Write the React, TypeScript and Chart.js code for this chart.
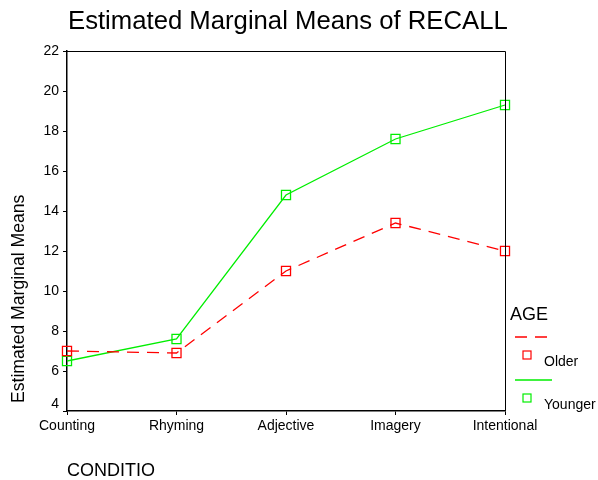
import React, { useEffect, useRef } from "react";
import { Chart, registerables } from "chart.js";

Chart.register(...registerables);

const chartTitle = "Estimated Marginal Means of RECALL";
const xAxisTitle = "CONDITIO";
const yAxisTitle = "Estimated Marginal Means";
const legendTitle = "AGE";
const categories = ["Counting", "Rhyming", "Adjective", "Imagery", "Intentional"];
const seriesNames = ["Older", "Younger"];
const olderMeans = [7.0, 6.9, 11.0, 13.4, 12.0];
const youngerMeans = [6.5, 7.6, 14.8, 17.6, 19.3];
const yTicks = [4, 6, 8, 10, 12, 14, 16, 18, 20, 22];

const FONT = "'Liberation Sans', Arial, Helvetica, sans-serif";

const decorPlugin = {
  id: "spssDecor",
  afterDraw(chart: any) {
    const { ctx, chartArea } = chart;
    const { left, right, top, bottom } = chartArea;
    const yScale = chart.scales.y;
    ctx.save();

    // frame (top + right)
    ctx.strokeStyle = "#000";
    ctx.lineWidth = 1;
    ctx.beginPath();
    ctx.moveTo(left, top + 0.5);
    ctx.lineTo(right + 0.5, top + 0.5);
    ctx.lineTo(right + 0.5, bottom);
    ctx.stroke();

    // title
    ctx.fillStyle = "#000";
    ctx.font = `25.7px ${FONT}`;
    ctx.textAlign = "left";
    ctx.textBaseline = "alphabetic";
    ctx.fillText(chartTitle, 68, 28.5);

    // y tick labels
    ctx.font = `14px ${FONT}`;
    ctx.textAlign = "right";
    ctx.textBaseline = "middle";
    yScale.ticks.forEach((t: any) => {
      const py = Math.min(yScale.getPixelForValue(t.value), bottom - 7);
      ctx.fillText(String(t.value), left - 8, py);
    });

    // y axis title
    ctx.save();
    ctx.font = `17.6px ${FONT}`;
    ctx.translate(19, 403);
    ctx.rotate(-Math.PI / 2);
    ctx.textAlign = "left";
    ctx.textBaseline = "middle";
    ctx.fillText(yAxisTitle, 0, 0);
    ctx.restore();

    // legend
    const lx = right + 10;
    ctx.font = `18px ${FONT}`;
    ctx.textAlign = "left";
    ctx.textBaseline = "middle";
    ctx.fillText(legendTitle, lx - 5, 315);
    chart.data.datasets.forEach((ds: any, i: number) => {
      const baseY = 337 + i * 43;
      ctx.strokeStyle = ds.borderColor;
      ctx.lineWidth = 1.3;
      ctx.setLineDash(ds.borderDash || []);
      ctx.beginPath();
      ctx.moveTo(lx, baseY);
      ctx.lineTo(lx + 37, baseY);
      ctx.stroke();
      ctx.setLineDash([]);
      ctx.lineWidth = 1.2;
      ctx.strokeRect(lx + 8, baseY + 14, 8, 8);
      ctx.fillStyle = "#000";
      ctx.font = `14px ${FONT}`;
      ctx.fillText(ds.label, lx + 29, baseY + 25);
    });
    ctx.restore();
  },
};

export default function App() {
  const canvasRef = useRef<HTMLCanvasElement | null>(null);

  useEffect(() => {
    if (!canvasRef.current) return;
    const chart = new Chart(canvasRef.current, {
      type: "line",
      data: {
        labels: categories,
        datasets: [
          {
            label: seriesNames[0],
            data: olderMeans,
            borderColor: "#ff0000",
            backgroundColor: "rgba(0,0,0,0)",
            borderWidth: 1.3,
            borderDash: [12, 8],
            pointStyle: "rect",
            pointRadius: 6.4,
            pointBorderColor: "#ff0000",
            pointBackgroundColor: "rgba(0,0,0,0)",
            pointBorderWidth: 1.3,
            tension: 0,
            fill: false,
          },
          {
            label: seriesNames[1],
            data: youngerMeans,
            borderColor: "#00ee00",
            backgroundColor: "rgba(0,0,0,0)",
            borderWidth: 1.3,
            pointStyle: "rect",
            pointRadius: 6.4,
            pointBorderColor: "#00ee00",
            pointBackgroundColor: "rgba(0,0,0,0)",
            pointBorderWidth: 1.3,
            tension: 0,
            fill: false,
          },
        ],
      },
      options: {
        responsive: false,
        animation: false,
        events: [],
        layout: { padding: { left: 0, right: 93, top: 51, bottom: 0 } },
        plugins: {
          legend: { display: false },
          title: { display: false },
          tooltip: { enabled: false },
        },
        scales: {
          x: {
            type: "category",
            offset: false,
            grid: {
              drawOnChartArea: false,
              drawTicks: true,
              tickLength: 4,
              color: "#000",
              lineWidth: 1,
            },
            border: { display: true, color: "#000", width: 1.5 },
            ticks: {
              color: "#000",
              font: { family: FONT, size: 14 },
              padding: 3,
              maxRotation: 0,
              autoSkip: false,
            },
            title: {
              display: true,
              text: xAxisTitle,
              align: "start",
              color: "#000",
              font: { family: FONT, size: 18, lineHeight: 1 },
              padding: { top: 0, bottom: 0 },
            },
            afterFit: (scale: any) => {
              scale.height = 69;
            },
          },
          y: {
            type: "linear",
            min: 4,
            max: 22,
            afterBuildTicks: (scale: any) => {
              scale.ticks = yTicks.map((v) => ({ value: v }));
            },
            grid: {
              drawOnChartArea: false,
              drawTicks: true,
              tickLength: 4,
              color: "#000",
              lineWidth: 1,
            },
            border: { display: true, color: "#000", width: 1.5 },
            ticks: { display: false },
            afterFit: (scale: any) => {
              scale.width = 67;
            },
          },
        },
      },
      plugins: [decorPlugin],
    });
    return () => chart.destroy();
  }, []);

  return (
    <div style={{ position: "fixed", left: 0, top: 0, width: 598, height: 480, background: "#fff" }}>
      <canvas ref={canvasRef} width={598} height={480} style={{ display: "block" }} />
    </div>
  );
}
